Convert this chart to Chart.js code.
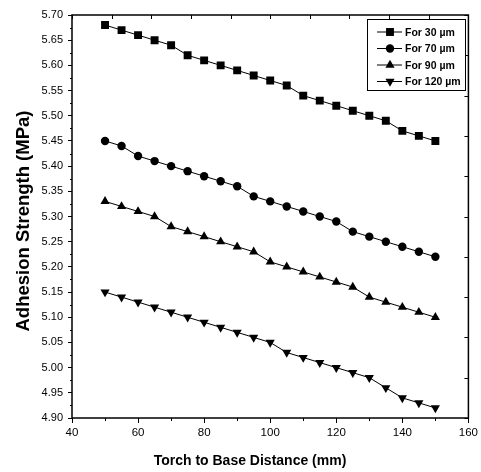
<!DOCTYPE html>
<html>
<head>
<meta charset="utf-8">
<script src="https://cdn.jsdelivr.net/npm/chart.js@4.4.1/dist/chart.umd.min.js"></script>
<style>
  html, body { margin: 0; padding: 0; background: #fff; }
  #wrap { width: 481px; height: 472px; }
</style>
</head>
<body>
<div id="wrap"><canvas id="adhesion"></canvas></div>
<script>
// torch to base distance (mm)
const distances = [50, 55, 60, 65, 70, 75, 80, 85, 90, 95, 100, 105, 110, 115, 120, 125, 130, 135, 140, 145, 150];

// adhesion strength (MPa) for each coating thickness
const for30 = [5.68, 5.67, 5.66, 5.65, 5.64, 5.62, 5.61, 5.60, 5.59, 5.58, 5.57, 5.56, 5.54, 5.53, 5.52, 5.51, 5.50, 5.49, 5.47, 5.46, 5.45];
const for70 = [5.45, 5.44, 5.42, 5.41, 5.40, 5.39, 5.38, 5.37, 5.36, 5.34, 5.33, 5.32, 5.31, 5.30, 5.29, 5.27, 5.26, 5.25, 5.24, 5.23, 5.22];
const for90 = [5.33, 5.32, 5.31, 5.30, 5.28, 5.27, 5.26, 5.25, 5.24, 5.23, 5.21, 5.20, 5.19, 5.18, 5.17, 5.16, 5.14, 5.13, 5.12, 5.11, 5.10];
const for120 = [5.15, 5.14, 5.13, 5.12, 5.11, 5.10, 5.09, 5.08, 5.07, 5.06, 5.05, 5.03, 5.02, 5.01, 5.00, 4.99, 4.98, 4.96, 4.94, 4.93, 4.92];

const seriesNames = ["For 30 \u00b5m", "For 70 \u00b5m", "For 90 \u00b5m", "For 120 \u00b5m"];
const xTitle = "Torch to Base Distance (mm)";
const yTitle = "Adhesion Strength (MPa)";

const FONT = "'Liberation Sans', Arial, sans-serif";

function makeSet(label, values, style, radius, rotation) {
    return {
        label: label,
        data: values.map((v, i) => ({x: distances[i], y: v})),
        borderColor: "#000",
        backgroundColor: "#000",
        borderWidth: 1,
        pointStyle: style,
        pointRadius: radius,
        pointRotation: rotation,
        pointBorderWidth: 0,
        pointBackgroundColor: "#000",
        tension: 0
    };
}

// frame, inward ticks on top/right, minor ticks, axis titles and the legend box
const frameAndLegend = {
    id: "frameAndLegend",
    afterDraw(chart) {
        const ctx = chart.ctx;
        const a = chart.chartArea;
        const xs = chart.scales.x, ys = chart.scales.y;
        const xt = chart.scales.x2, yr = chart.scales.y2;
        ctx.save();
        ctx.strokeStyle = "#000";
        ctx.lineWidth = 1.5;
        ctx.strokeRect(a.left, a.top, a.right - a.left, a.bottom - a.top);

        ctx.lineWidth = 1;
        ctx.beginPath();
        // top ticks pointing in
        for (const t of xt.ticks) {
            const px = Math.round(xt.getPixelForValue(t.value)) + 0.5;
            ctx.moveTo(px, a.top); ctx.lineTo(px, a.top + 4);
        }
        // right ticks pointing in
        for (const t of yr.ticks) {
            const py = Math.round(yr.getPixelForValue(t.value)) + 0.5;
            ctx.moveTo(a.right, py); ctx.lineTo(a.right - 4, py);
        }
        // minor ticks bottom
        for (let v = 50; v < 160; v += 20) {
            const px = Math.round(xs.getPixelForValue(v)) + 0.5;
            ctx.moveTo(px, a.bottom); ctx.lineTo(px, a.bottom + 3);
        }
        // minor ticks left
        for (let k = 0; k < 16; k++) {
            const v = 4.925 + k * 0.05;
            const py = Math.round(ys.getPixelForValue(v)) + 0.5;
            ctx.moveTo(a.left, py); ctx.lineTo(a.left - 2, py);
        }
        ctx.stroke();

        // axis titles
        ctx.fillStyle = "#000";
        ctx.textAlign = "center";
        ctx.textBaseline = "middle";
        ctx.font = "bold 14px " + FONT;
        ctx.fillText(xTitle, 250, 461);
        ctx.save();
        ctx.translate(24, 221);
        ctx.rotate(-Math.PI / 2);
        ctx.font = "bold 18.5px " + FONT;
        ctx.fillText(yTitle, 0, 0);
        ctx.restore();

        // legend
        const bx = 367, by = 19, bw = 98, bh = 71;
        ctx.lineWidth = 1;
        ctx.fillStyle = "#fff";
        ctx.fillRect(bx, by, bw, bh);
        ctx.strokeRect(bx + 0.5, by + 0.5, bw, bh);
        ctx.font = "bold 10.5px " + FONT;
        ctx.textBaseline = "middle";
        ctx.textAlign = "left";
        chart.data.datasets.forEach((ds, i) => {
            const y = by + 13 + i * 16.5;
            ctx.beginPath();
            ctx.moveTo(bx + 10, y); ctx.lineTo(bx + 35, y);
            ctx.stroke();
            ctx.fillStyle = "#000";
            Chart.helpers.drawPoint(ctx, {
                pointStyle: ds.pointStyle,
                rotation: ds.pointRotation,
                radius: ds.pointRadius,
                borderWidth: 0
            }, bx + 23, y);
            ctx.fillStyle = "#000";
            ctx.fillText(ds.label, bx + 38, y + 1);
        });
        ctx.restore();
    }
};

new Chart("adhesion", {
    type: "line",
    data: {
        datasets: [
            makeSet(seriesNames[0], for30, "rect", 5.6, 0),
            makeSet(seriesNames[1], for70, "circle", 4.2, 0),
            makeSet(seriesNames[2], for90, "triangle", 5.3, 0),
            makeSet(seriesNames[3], for120, "triangle", 5.3, 180)
        ]
    },
    options: {
        responsive: true,
        maintainAspectRatio: false,
        animation: false,
        layout: { padding: { top: 15, right: 11, left: 0, bottom: 0 } },
        plugins: {
            legend: { display: false },
            tooltip: { enabled: false }
        },
        scales: {
            x: {
                type: "linear",
                min: 40, max: 160,
                afterFit: (s) => { s.height = 54; },
                ticks: { stepSize: 20, color: "#000", padding: 3, font: { family: FONT, size: 11.5 } },
                grid: { drawOnChartArea: false, tickLength: 5, color: "#000", tickColor: "#000" },
                border: { display: false }
            },
            y: {
                min: 4.9, max: 5.7,
                afterFit: (s) => { s.width = 72; },
                ticks: {
                    stepSize: 0.05, color: "#000", padding: 5,
                    font: { family: FONT, size: 11 },
                    callback: (v) => v.toFixed(2)
                },
                grid: { drawOnChartArea: false, tickLength: 4, color: "#000", tickColor: "#000" },
                border: { display: false }
            },
            x2: { type: "linear", position: "top", display: false, min: 0, max: 10, ticks: { stepSize: 1 } },
            y2: { type: "linear", position: "right", display: false, min: 0, max: 10, ticks: { stepSize: 1 } }
        }
    },
    plugins: [frameAndLegend]
});
</script>
</body>
</html>
